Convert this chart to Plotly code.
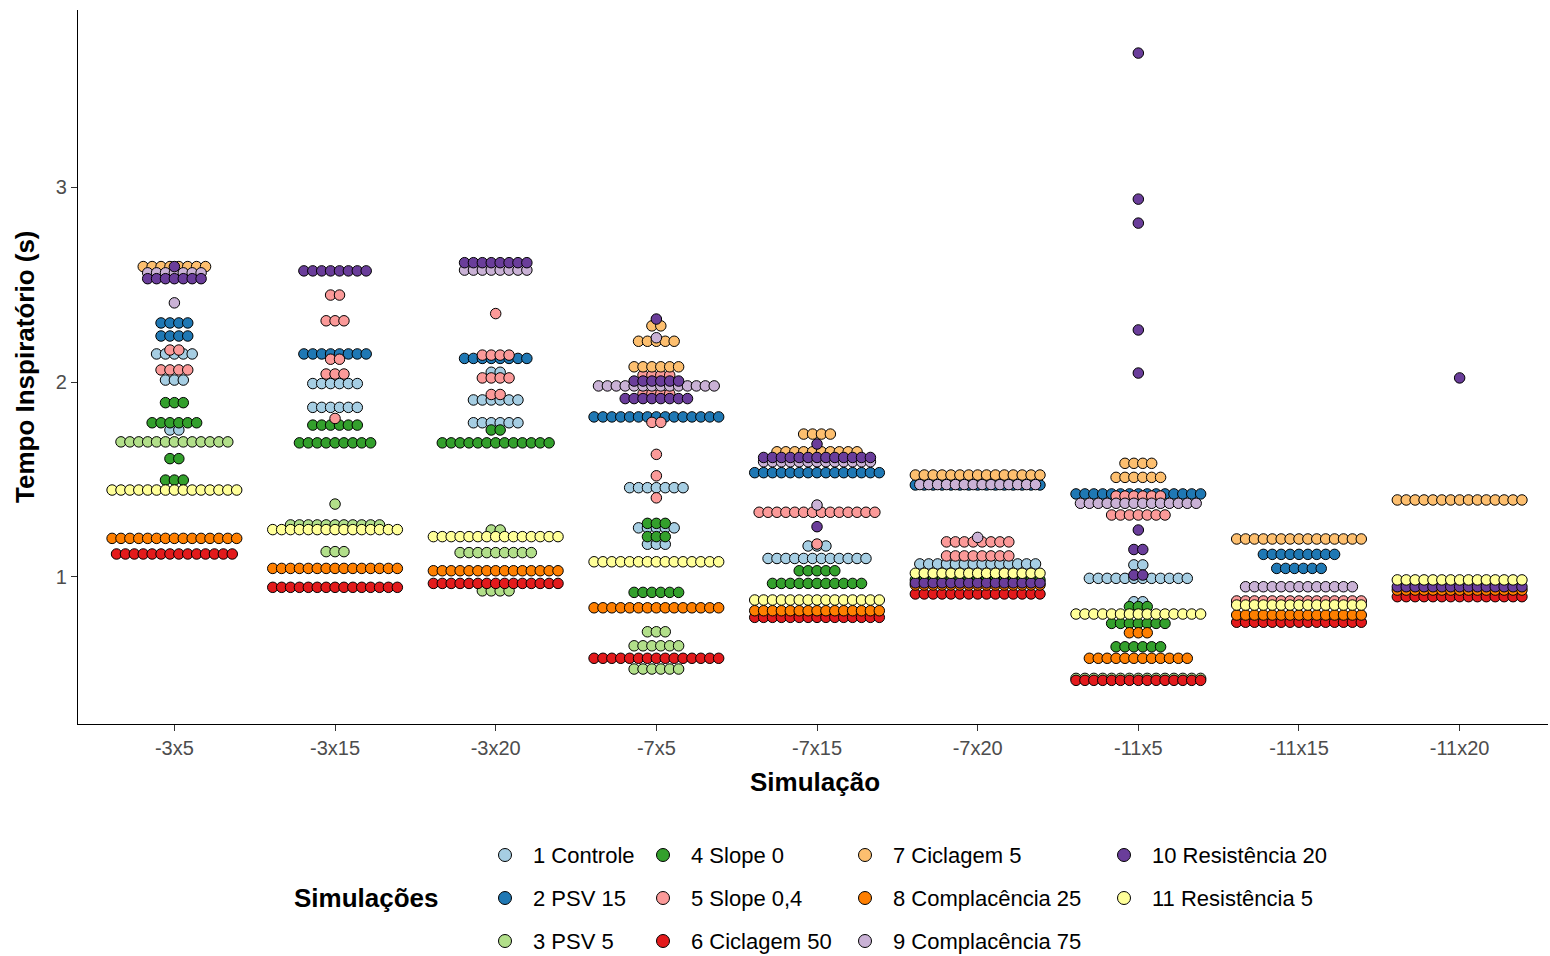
import plotly.graph_objects as go

# Simulações (eixo x)
categorias = ["-3x5", "-3x15", "-3x20", "-7x5", "-7x15", "-7x20", "-11x5", "-11x15", "-11x20"]

nomes = ["1 Controle", "2 PSV 15", "3 PSV 5", "4 Slope 0", "5 Slope 0,4", "6 Ciclagem 50",
         "7 Ciclagem 5", "8 Complacência 25", "9 Complacência 75", "10 Resistência 20",
         "11 Resistência 5"]
cores = ["#A6CEE3", "#1F78B4", "#B2DF8A", "#33A02C", "#FB9A99", "#E31A1C",
         "#FDBF6F", "#FF7F00", "#CAB2D6", "#6A3D9A", "#FFFF99"]

# (simulação, tempo inspiratório em s, número de ciclos com esse valor)
s1_controle = [("-3x5", 2.144, 5), ("-3x5", 2.010, 3), ("-3x5", 1.754, 2),
               ("-3x15", 1.992, 6), ("-3x15", 1.870, 6),
               ("-3x20", 2.050, 2), ("-3x20", 1.908, 6), ("-3x20", 1.791, 6),
               ("-7x5", 1.458, 7), ("-7x5", 1.252, 5), ("-7x5", 1.168, 3),
               ("-7x15", 1.159, 3), ("-7x15", 1.095, 12),
               ("-7x20", 1.067, 14),
               ("-11x5", 1.062, 2), ("-11x5", 0.993, 12), ("-11x5", 0.873, 2)]
s2_psv15 = [("-3x5", 2.303, 4), ("-3x5", 2.236, 4),
            ("-3x15", 2.144, 8), ("-3x20", 2.121, 8), ("-7x5", 1.821, 15),
            ("-7x15", 1.535, 15), ("-7x20", 1.472, 15), ("-11x5", 1.426, 15),
            ("-11x15", 1.116, 9), ("-11x15", 1.044, 6)]
s3_psv5 = [("-3x5", 1.693, 13),
           ("-3x15", 1.374, 1), ("-3x15", 1.267, 11), ("-3x15", 1.130, 3),
           ("-3x20", 1.241, 2), ("-3x20", 1.125, 9), ("-3x20", 0.929, 4),
           ("-7x5", 0.719, 3), ("-7x5", 0.647, 6), ("-7x5", 0.528, 6),
           ("-11x5", 0.480, 15)]
s4_slope0 = [("-3x5", 1.894, 3), ("-3x5", 1.791, 6), ("-3x5", 1.607, 2), ("-3x5", 1.497, 3),
             ("-3x15", 1.779, 6), ("-3x15", 1.688, 9),
             ("-3x20", 1.754, 2), ("-3x20", 1.688, 13),
             ("-7x5", 1.275, 3), ("-7x5", 1.207, 3), ("-7x5", 0.921, 6),
             ("-7x15", 1.032, 5), ("-7x15", 0.967, 11),
             ("-7x20", 0.985, 15),
             ("-11x5", 0.848, 3), ("-11x5", 0.762, 7), ("-11x5", 0.642, 6)]
s5_slope04 = [("-3x5", 2.164, 2), ("-3x5", 2.062, 4),
              ("-3x15", 2.446, 2), ("-3x15", 2.314, 3), ("-3x15", 2.117, 2),
              ("-3x15", 2.041, 3), ("-3x15", 1.813, 1),
              ("-3x20", 2.351, 1), ("-3x20", 2.138, 4), ("-3x20", 2.021, 4), ("-3x20", 1.936, 2),
              ("-7x5", 2.035, 4), ("-7x5", 1.940, 4), ("-7x5", 1.793, 2), ("-7x5", 1.629, 1),
              ("-7x5", 1.519, 1), ("-7x5", 1.406, 1),
              ("-7x15", 1.332, 14), ("-7x15", 1.169, 1),
              ("-7x20", 1.180, 8), ("-7x20", 1.108, 8),
              ("-11x5", 1.415, 6), ("-11x5", 1.318, 7),
              ("-11x15", 0.877, 15)]
s6_ciclagem50 = [("-3x5", 1.118, 14), ("-3x15", 0.947, 15), ("-3x20", 0.967, 15),
                 ("-7x5", 0.583, 15), ("-7x15", 0.793, 15), ("-7x20", 0.913, 15),
                 ("-11x5", 0.470, 15), ("-11x15", 0.768, 15), ("-11x20", 0.899, 15)]
s7_ciclagem5 = [("-3x5", 2.592, 8),
                ("-7x5", 2.288, 2), ("-7x5", 2.209, 5), ("-7x5", 2.078, 6),
                ("-7x15", 1.733, 4), ("-7x15", 1.642, 10),
                ("-7x20", 1.523, 15), ("-11x5", 1.583, 4), ("-11x5", 1.511, 6),
                ("-11x15", 1.195, 15), ("-11x20", 1.395, 15)]
s8_complacencia25 = [("-3x5", 1.198, 15), ("-3x15", 1.044, 15), ("-3x20", 1.032, 15),
                     ("-7x5", 0.842, 15), ("-7x15", 0.827, 15), ("-7x20", 0.959, 15),
                     ("-11x5", 0.714, 3), ("-11x5", 0.583, 12),
                     ("-11x15", 0.805, 15), ("-11x20", 0.933, 15)]
s9_complacencia75 = [("-3x5", 2.560, 7), ("-3x5", 2.406, 1),
                     ("-3x20", 2.574, 8),
                     ("-7x5", 2.227, 1), ("-7x5", 1.980, 14),
                     ("-7x15", 1.591, 13), ("-7x15", 1.369, 1),
                     ("-7x20", 1.474, 14), ("-7x20", 1.203, 1),
                     ("-11x5", 1.378, 14), ("-11x15", 0.950, 13)]
s10_resistencia20 = [("-3x5", 2.592, 1), ("-3x5", 2.530, 7),
                     ("-3x15", 2.570, 8), ("-3x20", 2.612, 8),
                     ("-7x5", 2.323, 1), ("-7x5", 2.005, 6), ("-7x5", 1.915, 8),
                     ("-7x15", 1.682, 1), ("-7x15", 1.613, 13), ("-7x15", 1.258, 1),
                     ("-7x20", 0.970, 15),
                     ("-11x5", 3.687, 1), ("-11x5", 2.938, 1), ("-11x5", 2.815, 1),
                     ("-11x5", 2.267, 1), ("-11x5", 2.046, 1), ("-11x5", 1.241, 1),
                     ("-11x5", 1.141, 2), ("-11x5", 1.010, 2),
                     ("-11x20", 2.021, 1), ("-11x20", 0.950, 15)]
s11_resistencia5 = [("-3x5", 1.446, 15), ("-3x15", 1.243, 15), ("-3x20", 1.207, 15),
                    ("-7x5", 1.078, 15), ("-7x15", 0.882, 15), ("-7x20", 1.019, 15),
                    ("-11x5", 0.810, 15), ("-11x15", 0.856, 15), ("-11x20", 0.985, 15)]

dados = [s1_controle, s2_psv15, s3_psv5, s4_slope0, s5_slope04, s6_ciclagem50,
         s7_ciclagem5, s8_complacencia25, s9_complacencia75, s10_resistencia20,
         s11_resistencia5]

W, H = 1550, 956
PX = lambda x: x / W
PY = lambda y: 1 - y / H

X_RANGE = [-0.6, 8.55]
Y_RANGE = [0.246, 3.908]
DOT_STEP = 0.0554          # horizontal distance between neighbouring dots (category units)
FONT = "Liberation Sans, Arial, sans-serif"

fig = go.Figure()

# beeswarm: each repeated value is spread into a centred row of dots
for nome, cor, serie in zip(nomes, cores, dados):
    xs, ys = [], []
    for cat, valor, n in serie:
        centro = categorias.index(cat)
        for i in range(n):
            xs.append(centro + (i - (n - 1) / 2) * DOT_STEP)
            ys.append(valor)
    fig.add_trace(go.Scatter(
        x=xs, y=ys, mode="markers", name=nome, showlegend=False,
        marker=dict(size=10.5, color=cor, line=dict(color="black", width=1)),
        hovertemplate=nome + "<br>%{y:.2f} s<extra></extra>",
    ))

fig.update_layout(
    width=W, height=H, autosize=False,
    margin=dict(l=0, r=0, t=0, b=0),
    plot_bgcolor="white", paper_bgcolor="white",
    font=dict(family=FONT, color="#4D4D4D", size=20),
    xaxis=dict(
        domain=[PX(78), PX(1548)], range=X_RANGE,
        tickmode="array", tickvals=list(range(len(categorias))), ticktext=categorias,
        showgrid=False, zeroline=False, showline=True, linecolor="black", linewidth=1.3,
        ticks="outside", ticklen=6, tickcolor="#333333", tickwidth=1.2,
        tickfont=dict(size=20, color="#4D4D4D"),
    ),
    yaxis=dict(
        domain=[PY(724), PY(10)], range=Y_RANGE,
        tickvals=[1, 2, 3], ticktext=["1", "2", "3"],
        showgrid=False, zeroline=False, showline=True, linecolor="black", linewidth=1.3,
        ticks="outside", ticklen=6, tickcolor="#333333", tickwidth=1.2,
        tickfont=dict(size=20, color="#4D4D4D"),
    ),
)

anns = [
    dict(text="<b>Tempo Inspiratório (s)</b>", x=PX(25), y=PY(367), textangle=-90,
         font=dict(size=26, color="black")),
    dict(text="<b>Simulação</b>", x=PX(815), y=PY(782),
         font=dict(size=26, color="black")),
    dict(text="<b>Simulações</b>", x=PX(292), y=PY(898), xanchor="left",
         font=dict(size=26, color="black")),
]

# legend drawn as keys + labels, four columns of three rows
col_icon = [505, 663, 865, 1124]
row_y = [855, 898, 941]
shapes = []
for k, (nome, cor) in enumerate(zip(nomes, cores)):
    c, r = divmod(k, 3)
    cx, cy = col_icon[c], row_y[r]
    shapes.append(dict(type="circle", xref="paper", yref="paper",
                       xsizemode="pixel", ysizemode="pixel",
                       xanchor=PX(cx), yanchor=PY(cy),
                       x0=-6.5, x1=6.5, y0=-6.5, y1=6.5,
                       fillcolor=cor, line=dict(color="black", width=1)))
    anns.append(dict(text=nome, x=PX(cx + 26), y=PY(cy), xanchor="left",
                     font=dict(size=22, color="black")))

for a in anns:
    a.setdefault("xref", "paper")
    a.setdefault("yref", "paper")
    a.setdefault("showarrow", False)
    a.setdefault("xanchor", "center")
    a.setdefault("yanchor", "middle")

fig.update_layout(annotations=anns, shapes=shapes)
fig.write_html("out.html")
